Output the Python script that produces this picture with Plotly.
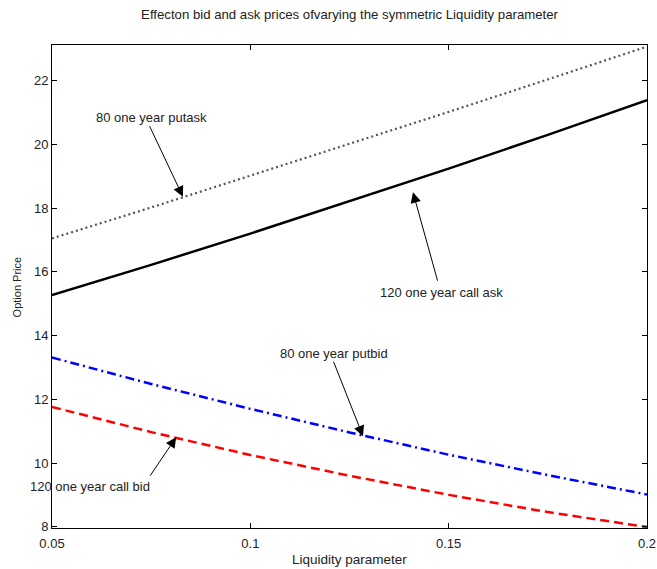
import plotly.graph_objects as go

liquidity = [0.05, 0.075, 0.1, 0.125, 0.15, 0.175, 0.2]
put80_ask = [17.05, 18.02, 19.02, 20.01, 21.02, 22.04, 23.07]
call120_ask = [15.27, 16.22, 17.20, 18.21, 19.24, 20.30, 21.39]
put80_bid = [13.31, 12.48, 11.70, 10.96, 10.26, 9.62, 9.01]
call120_bid = [11.76, 10.97, 10.25, 9.60, 9.00, 8.46, 7.99]

x_ticks = [0.05, 0.1, 0.15, 0.2]
x_tick_labels = ["0.05", "0.1", "0.15", "0.2"]
y_ticks = [8, 10, 12, 14, 16, 18, 20, 22]

FONT = "Liberation Sans, Arial, sans-serif"
TXT = "#222222"

fig = go.Figure()
fig.add_trace(go.Scatter(x=liquidity, y=put80_ask, mode="lines",
                         line=dict(color="#555555", width=2.2, dash="2px,3px"), showlegend=False))
fig.add_trace(go.Scatter(x=liquidity, y=call120_ask, mode="lines",
                         line=dict(color="black", width=2.5), showlegend=False))
fig.add_trace(go.Scatter(x=liquidity, y=put80_bid, mode="lines",
                         line=dict(color="blue", width=2.5, dash="9px,4px,2px,4px"), showlegend=False))
fig.add_trace(go.Scatter(x=liquidity, y=call120_bid, mode="lines",
                         line=dict(color="red", width=2.5, dash="9px,5px"), showlegend=False))

# arrows (head in data coords, tail as pixel offset)
arrows = [
    (0.0830, 18.36, -34, -72),
    (0.1410, 18.50, 25, 90),
    (0.1284, 10.84, -30, -76),
    (0.0813, 10.81, -27, 40),
]
for hx, hy, ax, ay in arrows:
    fig.add_annotation(x=hx, y=hy, xref="x", yref="y", ax=ax, ay=ay, text="",
                       showarrow=True, arrowhead=2, arrowsize=2.1, arrowwidth=1, arrowcolor="black")

labels = [
    ("80 one year putask", 0.0752, 20.86),
    ("120 one year call ask", 0.1483, 15.36),
    ("80 one year putbid", 0.1211, 13.45),
    ("120 one year call bid", 0.0596, 9.27),
]
for t, lx, ly in labels:
    fig.add_annotation(x=lx, y=ly, xref="x", yref="y", text=t, showarrow=False,
                       font=dict(family=FONT, size=13, color=TXT))

# axis titles
fig.add_annotation(x=0.5, y=-0.065, xref="paper", yref="paper", text="Liquidity parameter",
                   showarrow=False, yanchor="middle", xanchor="center",
                   font=dict(family=FONT, size=13.5, color=TXT))
fig.add_annotation(x=-0.059, y=0.5, xref="paper", yref="paper", text="Option Price",
                   showarrow=False, textangle=-90, xanchor="center", yanchor="middle",
                   font=dict(family=FONT, size=11, color=TXT))

axis_common = dict(showline=True, linecolor="black", linewidth=1, mirror="ticks",
                   ticks="inside", ticklen=5, tickcolor="black", showgrid=False, zeroline=False,
                   automargin=False, tickfont=dict(family=FONT, size=13, color=TXT))

fig.update_xaxes(range=[0.05, 0.2], tickvals=x_ticks, ticktext=x_tick_labels,
                 ticklabelstandoff=3, **axis_common)
fig.update_yaxes(range=[7.96, 23.12], tickvals=y_ticks, **axis_common)

fig.update_layout(
    width=657, height=569,
    margin=dict(l=52, r=10, t=45, b=41),
    plot_bgcolor="white", paper_bgcolor="white",
    title=dict(text="Effecton bid and ask prices ofvarying the symmetric Liquidity parameter",
               x=0.532, xanchor="center", y=1 - 14.5 / 569, yanchor="middle",
               font=dict(family=FONT, size=13.2, color=TXT)),
)

fig.write_html("out.html", config={"displayModeBar": False},
               post_script="document.body.style.margin='0px';")
